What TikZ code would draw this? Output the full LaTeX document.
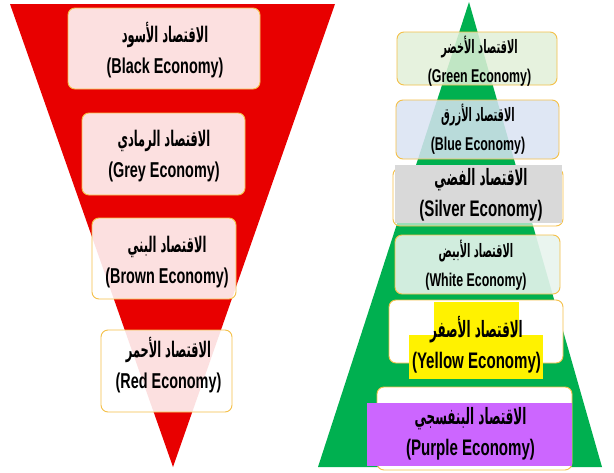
\documentclass[tikz,border=0pt]{standalone}
\usepackage{fontspec}
\setmainfont{Liberation Sans}
\newfontfamily\narrowfont[FakeStretch=0.67]{Liberation Sans}
\newfontfamily\arabicfont[Script=Arabic,FakeStretch=0.53]{DejaVu Sans}
\TeXXeTstate=1

\definecolor{funnelred}{RGB}{232,0,0}
\definecolor{pyramidgreen}{RGB}{0,176,80}
\definecolor{boxline}{RGB}{244,192,72}
\definecolor{greenfill}{RGB}{226,240,217}
\definecolor{bluefill}{RGB}{218,227,243}
\definecolor{whitefill}{RGB}{232,244,238}
\definecolor{silverfill}{RGB}{217,217,217}
\definecolor{purplefill}{RGB}{204,102,255}

\newcommand{\econ}[2]{{\arabicfont\beginR #1\endR}\\#2}

\begin{document}
\begin{tikzpicture}[x=1pt,y=-1pt,
  box/.style={draw=boxline, line width=.9pt, rounded corners=7pt, inner sep=0pt},
  lbox/.style={box, fill=white, fill opacity=.88},
  txt/.style={align=center, inner sep=0pt, text=black},
  ltxt/.style={txt, font=\bfseries\narrowfont\fontsize{21.5}{31}\selectfont},
  rtxt/.style={txt, font=\bfseries\narrowfont\fontsize{18.5}{29}\selectfont},
  bigtxt/.style={txt, font=\bfseries\narrowfont\fontsize{22.5}{31}\selectfont}]
\fill[white] (0,0) rectangle (614,472);
\useasboundingbox (0,0) rectangle (614,472);

% funnel and pyramid
\fill[funnelred] (10,4) -- (335,4) -- (173,467) -- cycle;
\fill[pyramidgreen] (469,2) -- (318,467) -- (602,467) -- cycle;

% left boxes
\foreach \name/\cx/\cy/\w/\h in {black/164/48.5/192/81, grey/163.5/154/163/82,
    brown/164/258.5/144/81, red/166.5/371/131/82}
  \node[lbox, minimum width=\w pt, minimum height=\h pt] (\name) at (\cx,\cy) {};

\node[ltxt] (blacktxt) at (165,50) {\econ{الاقتصاد الأسود}{(Black Economy)}};
\node[ltxt] (greytxt) at (164,156.5) {\econ{الاقتصاد الرمادي}{(Grey Economy)}};
\node[ltxt] (browntxt) at (167,262) {\econ{الاقتصاد البني}{(Brown Economy)}};
\node[ltxt] (redtxt) at (168.5,365) {\econ{الاقتصاد الأحمر}{(Red Economy)}};

% right boxes
\node[box, fill=greenfill, fill opacity=.85, minimum width=160pt, minimum height=53pt] (green) at (477,58.5) {};
\node[box, fill=bluefill, fill opacity=.85, minimum width=163pt, minimum height=59pt] (blue) at (477.5,129.5) {};
\node[box, fill=white, fill opacity=.6, minimum width=170pt, minimum height=58pt] (silver) at (478,197) {};
\node[box, fill=whitefill, fill opacity=.9, minimum width=165pt, minimum height=59pt] (white) at (477.5,264.5) {};
\node[box, fill=white, minimum width=174pt, minimum height=63pt] (yellow) at (476,331.5) {};
\node[box, fill=white, minimum width=195pt, minimum height=83pt] (purple) at (474.5,428.5) {};

% highlighted text backgrounds
\fill[silverfill] (395,165) rectangle (562,223);
\fill[yellow] (434,302) rectangle (519,335);
\fill[yellow] (409,335) rectangle (543,379);
\fill[purplefill] (367,403) rectangle (572,466);

\node[rtxt] (greentxt) at (479.5,61) {\econ{الاقتصاد الأخضر}{(Green Economy)}};
\node[rtxt] (bluetxt) at (478,129.5) {\econ{الاقتصاد الأزرق}{(Blue Economy)}};
\node[bigtxt] (silvertxt) at (481,195) {\econ{الاقتصاد الفضي}{(Silver Economy)}};
\node[rtxt] (whitetxt) at (476,265.5) {\econ{الاقتصاد الأبيض}{(White Economy)}};
\node[bigtxt] (yellowtxt) at (476.5,345) {\econ{الاقتصاد الأصفر}{(Yellow Economy)}};
\node[bigtxt] (purpletxt) at (470.5,434) {\econ{الاقتصاد البنفسجي}{(Purple Economy)}};
\end{tikzpicture}
\end{document}
